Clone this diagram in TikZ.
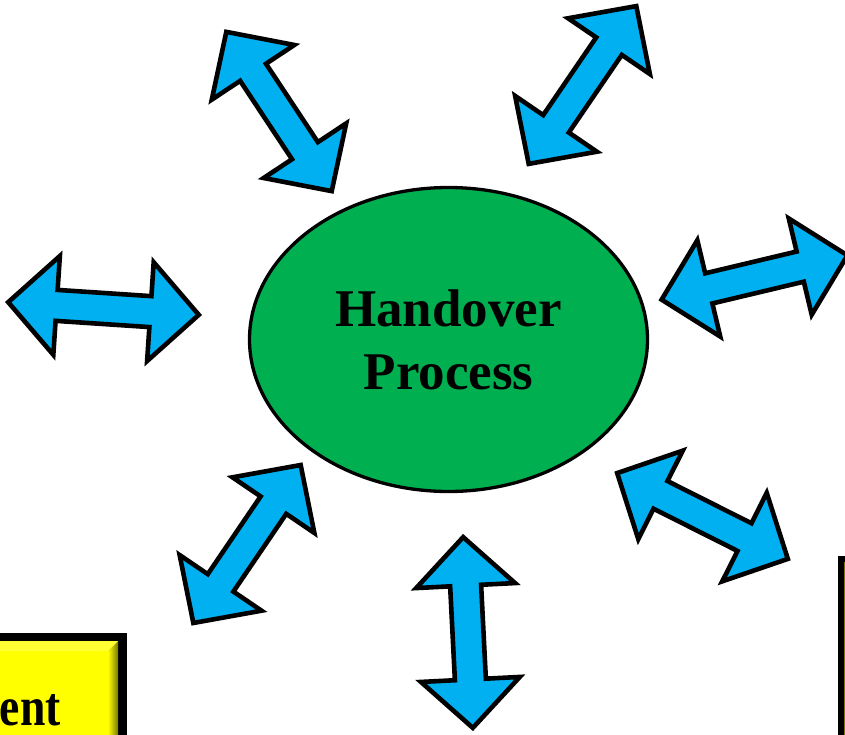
\documentclass[tikz,border=0pt]{standalone}
\usepackage{fontspec}
\setmainfont{Liberation Serif}
\usetikzlibrary{shapes.geometric}
\definecolor{arrowblue}{RGB}{0,176,240}
\definecolor{procgreen}{RGB}{0,176,80}
\definecolor{boxyellow}{RGB}{255,255,0}
\definecolor{bevelolive}{RGB}{120,120,0}
\tikzset{
  arrowbody/.style={draw=black, fill=arrowblue, line width=4.6pt, line join=miter},
  dblarrow/.pic={
    \path[arrowbody] (-95.5,0) -- (-47,49.5) -- (-47,15.5) -- (47,15.5) -- (47,49.5)
      -- (95.5,0) -- (47,-49.5) -- (47,-15.5) -- (-47,-15.5) -- (-47,-49.5) -- cycle;
  },
  process/.style={ellipse, draw=black, fill=procgreen, line width=3.3pt,
    minimum width=398pt, minimum height=304pt, inner sep=0pt, align=center,
    font=\fontsize{53}{63}\selectfont\bfseries},
  boxtext/.style={font=\fontsize{55}{63}\selectfont\bfseries, inner sep=0pt,
    xscale=0.83}
}
\begin{document}
\begin{tikzpicture}[x=1pt, y=-1pt]
  \useasboundingbox (0,0) rectangle (845,735);
  \clip (0,0) rectangle (845,735);
  \fill[white] (0,0) rectangle (845,735);

  % central process
  \node[process] (hp) at (448.5,339.5) {Handover\\Process};

  % double arrows around the process
  \path (279,111.5)   pic[rotate=-56.5] {dblarrow};
  \path (582.5,85)    pic[rotate=55.7]  {dblarrow};
  \path (103.5,308.5) pic[rotate=-3.8]  {dblarrow};
  \path (754.5,277.5) pic[rotate=13.4]  {dblarrow};
  \path (247,544)     pic[rotate=55.8]  {dblarrow};
  \path (468,632.5)   pic[rotate=-87.1] {dblarrow};
  \path (702.5,516)   pic[rotate=-26.7] {dblarrow};

  % bevelled box, lower left
  \fill[black] (-5,633) rectangle (127,745);
  \fill[boxyellow] (-5,641) rectangle (118,745);
  \fill[left color=boxyellow, right color=bevelolive]
    (108,651) -- (118,641) -- (118,745) -- (108,745) -- cycle;
  \fill[boxyellow!80!white] (-5,641) -- (118,641) -- (108,651) -- (-5,651) -- cycle;
  \node[boxtext, anchor=base east] (lbox) at (61,725) {ent};

  % bevelled box, lower right
  \fill[black] (838,556) rectangle (850,745);
  \fill[bevelolive] (844,562) rectangle (850,745);
\end{tikzpicture}
\end{document}
